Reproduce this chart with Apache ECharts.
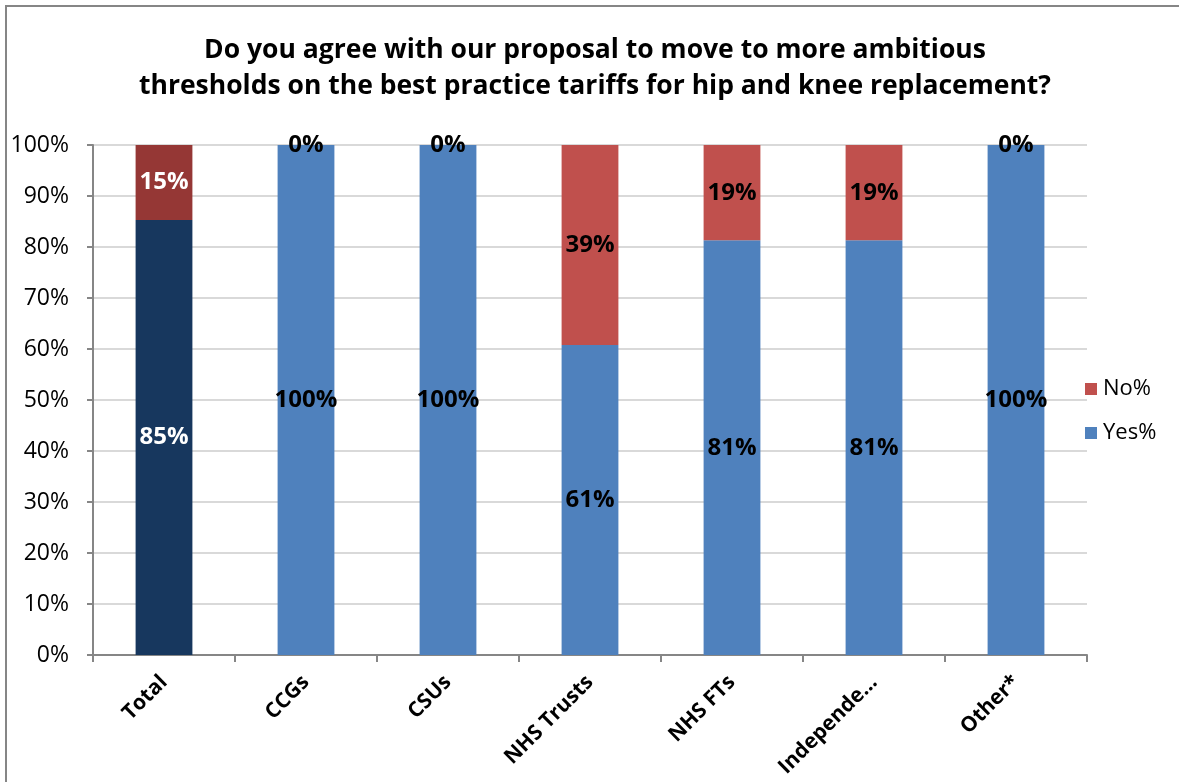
<!DOCTYPE html>
<html>
<head>
<meta charset="utf-8">
<script src="https://cdn.jsdelivr.net/npm/echarts@6/dist/echarts.min.js"></script>
<style>
  html, body { margin: 0; padding: 0; background: #fff; }
  #chart { width: 1179px; height: 782px; }
</style>
</head>
<body>
<div id="chart"></div>
<script>
// Survey responses by respondent group (percent of group)
const categories = ['Total', 'CCGs', 'CSUs', 'NHS Trusts', 'NHS FTs', 'Independe…', 'Other*'];
const yesPct = [85.3, 100, 100, 60.8, 81.3, 81.3, 100];
const noPct = [14.7, 0, 0, 39.2, 18.7, 18.7, 0];
const yTicks = [0, 10, 20, 30, 40, 50, 60, 70, 80, 90, 100];

const FONT = 'Open Sans, Lato, sans-serif';
const YES = '#4F81BD', NO = '#C0504D';
const YES_TOTAL = '#17375E', NO_TOTAL = '#953735';

function pctLabel(p) { return Math.round(p.value) + '%'; }

// The "Total" column is drawn in darker shades with white labels
function seriesData(vals, totalColor) {
  return vals.map((v, i) => i === 0
    ? { value: v, itemStyle: { color: totalColor }, label: { color: '#fff' } }
    : { value: v });
}

const barLabel = {
  show: true, position: 'inside', formatter: pctLabel,
  fontFamily: FONT, fontWeight: 'bold', fontSize: 24, color: '#000'
};

const chart = echarts.init(document.getElementById('chart'), null, { renderer: 'canvas' });
chart.setOption({
  animation: false,
  backgroundColor: '#fff',
  title: {
    text: 'Do you agree with our proposal to move to more ambitious\nthresholds on the best practice tariffs for hip and knee replacement?',
    left: 590, top: 27, textAlign: 'center',
    textStyle: { fontFamily: FONT, fontWeight: 'bold', fontSize: 26.5, lineHeight: 36, color: '#000' }
  },
  legend: {
    orient: 'vertical', left: 1080, top: 373,
    icon: 'rect', itemWidth: 12, itemHeight: 12, itemGap: 22,
    data: ['No%', 'Yes%'],
    textStyle: { fontFamily: FONT, fontSize: 22, color: '#000', padding: [0, 0, 0, 1] }
  },
  grid: { left: 93, right: 92, top: 145, bottom: 127, containLabel: false },
  xAxis: {
    type: 'category', data: categories,
    axisLine: { lineStyle: { color: '#868686', width: 2 } },
    axisTick: { show: true, length: 7, alignWithLabel: false, lineStyle: { color: '#868686', width: 2 } },
    axisLabel: { rotate: 45, margin: 24, fontFamily: FONT, fontWeight: 'bold', fontSize: 21, color: '#000' }
  },
  yAxis: {
    type: 'value', min: 0, max: 100, interval: 10,
    axisLine: { show: true, lineStyle: { color: '#868686', width: 2 } },
    axisTick: { show: true, length: 6, lineStyle: { color: '#868686', width: 2 } },
    splitLine: { lineStyle: { color: '#D9D9D9', width: 2 } },
    axisLabel: {
      margin: 24, fontFamily: FONT, fontSize: 23, color: '#000',
      formatter: v => yTicks.includes(v) ? v + '%' : ''
    }
  },
  series: [
    {
      name: 'Yes%', type: 'bar', stack: 'resp', barWidth: '40%',
      itemStyle: { color: YES },
      label: barLabel,
      data: seriesData(yesPct, YES_TOTAL)
    },
    {
      name: 'No%', type: 'bar', stack: 'resp', barWidth: '40%',
      itemStyle: { color: NO },
      label: barLabel,
      data: seriesData(noPct, NO_TOTAL)
    }
  ],
  graphic: [{
    type: 'rect', silent: true, z: 100,
    shape: { x: 6, y: 6, width: 1300, height: 900 },
    style: { fill: 'none', stroke: '#868686', lineWidth: 2 }
  }]
});
</script>
</body>
</html>
